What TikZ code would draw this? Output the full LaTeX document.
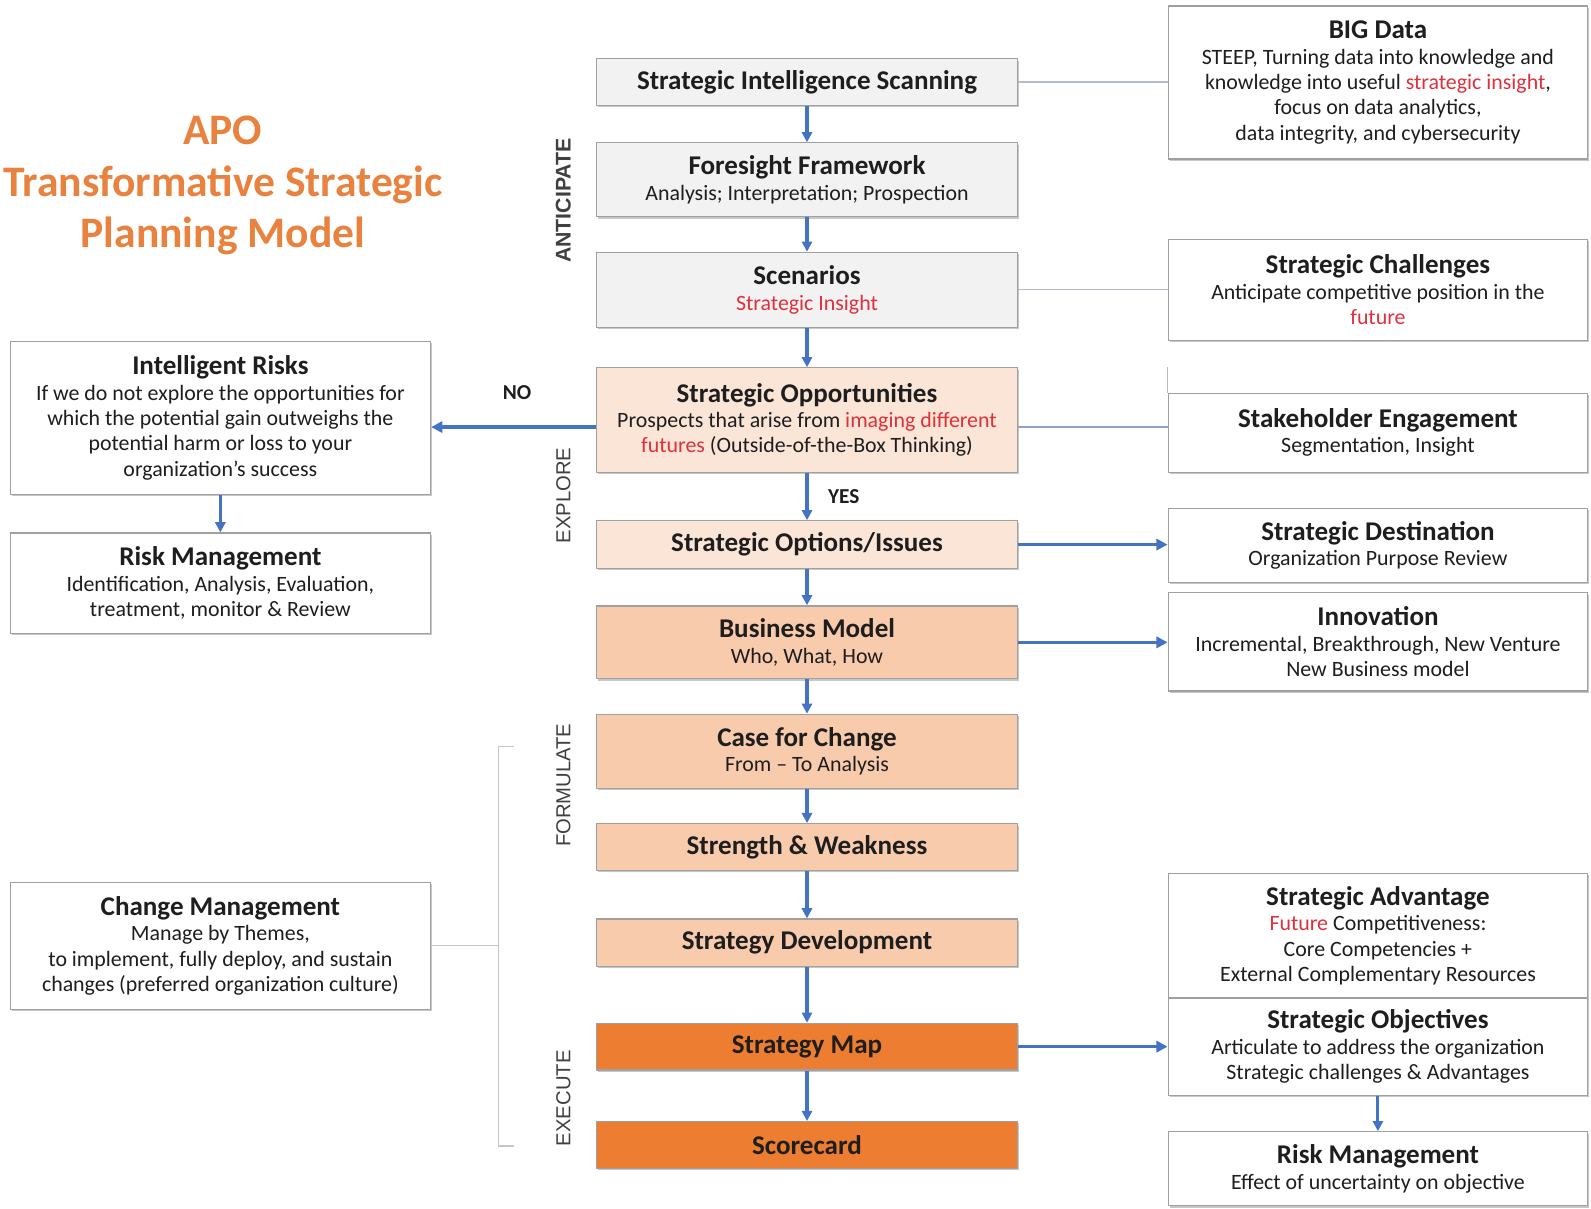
\documentclass[tikz,border=0pt]{standalone}
\usepackage{fontspec}
\setmainfont{Carlito}
\newfontfamily\labfont{Liberation Sans}
\usetikzlibrary{arrows.meta,shadows}
\definecolor{boxgray}{HTML}{F2F2F2}
\definecolor{edgegray}{HTML}{A0A0A0}
\definecolor{peachlt}{HTML}{FBE5D6}
\definecolor{peachmd}{HTML}{F8CBAD}
\definecolor{orng}{HTML}{ED7D31}
\definecolor{ttlorange}{HTML}{E8823E}
\definecolor{flowblue}{HTML}{4472C4}
\definecolor{redtxt}{HTML}{E0303C}
\definecolor{txt}{HTML}{1E1E1E}
\definecolor{thinline}{HTML}{B4BCC8}
\definecolor{bluethin}{HTML}{8EA2C8}
\newcommand{\bt}[1]{{\fontsize{26.7}{28}\selectfont\bfseries #1}}
\newcommand{\rd}[1]{\textcolor{redtxt}{#1}}
\tikzset{
  basebox/.style={draw=edgegray, line width=1.2pt, align=center, inner sep=0pt,
    text=txt, font=\fontsize{21.6}{25}\selectfont,
    drop shadow={shadow xshift=1.5pt, shadow yshift=-1.8pt, fill=black, opacity=0.22}},
  mainbox/.style={basebox, minimum width=415, fill=boxgray},
  sidebox/.style={basebox, minimum width=414, fill=white},
  flow/.style={draw=flowblue, line width=3pt, -{Triangle[length=10pt,width=10pt]}},
  sideflow/.style={flow, line width=3.6pt, -{Triangle[length=11pt,width=11pt]}},
  thin/.style={draw=thinline, line width=1.2pt},
  phase/.style={rotate=90, text=txt!85, font=\labfont\fontsize{20}{22}\selectfont},
  yn/.style={text=txt, font=\fontsize{21}{22}\selectfont\bfseries}
}
\begin{document}
\begin{tikzpicture}[x=1pt,y=-1pt]
\fill[white] (0,0) rectangle (1570.3,1192.3);

% title
\node[text=ttlorange, font=\fontsize{43}{50.5}\selectfont\bfseries, align=center] (title) at (220,183)
  {APO\\Transformative Strategic\\Planning Model};

% main column
\node[mainbox, minimum height=46] (sis) at (796.5,81) {\bt{Strategic Intelligence Scanning}};
\node[mainbox, minimum height=73] (ff) at (796.5,177.5) {\bt{Foresight Framework}\\Analysis; Interpretation; Prospection};
\node[mainbox, minimum height=74] (sc) at (796.5,286) {\bt{Scenarios}\\\rd{Strategic Insight}};
\node[mainbox, minimum height=103, fill=peachlt] (so) at (796.5,414.5) {\bt{Strategic Opportunities}\\Prospects that arise from \rd{imaging different}\\\rd{futures} (Outside-of-the-Box Thinking)};
\node[mainbox, minimum height=47, fill=peachlt] (soi) at (796.5,537.5) {\bt{Strategic Options/Issues}};
\node[mainbox, minimum height=72, fill=peachmd] (bm) at (796.5,634) {\bt{Business Model}\\Who, What, How};
\node[mainbox, minimum height=73, fill=peachmd] (cc) at (796.5,741.5) {\bt{Case for Change}\\From -- To Analysis};
\node[mainbox, minimum height=46, fill=peachmd] (sw) at (796.5,836) {\bt{Strength \& Weakness}};
\node[mainbox, minimum height=47, fill=peachmd] (sd) at (796.5,930.5) {\bt{Strategy Development}};
\node[mainbox, minimum height=46, fill=orng] (sm) at (796.5,1033) {\bt{Strategy Map}};
\node[mainbox, minimum height=46, fill=orng] (scd) at (796.5,1130) {\bt{Scorecard}};

% right column
\node[sidebox, minimum height=151] (bd) at (1360,81.5) {\bt{BIG Data}\\STEEP, Turning data into knowledge and\\knowledge into useful \rd{strategic insight},\\focus on data analytics,\\data integrity, and cybersecurity};
\node[sidebox, minimum height=100] (sch) at (1360,286) {\bt{Strategic Challenges}\\Anticipate competitive position in the\\\rd{future}};
\node[sidebox, minimum height=78] (se) at (1360,427) {\bt{Stakeholder Engagement}\\Segmentation, Insight};
\node[sidebox, minimum height=73] (sdest) at (1360,538.5) {\bt{Strategic Destination}\\Organization Purpose Review};
\node[sidebox, minimum height=97] (inn) at (1360,633.5) {\bt{Innovation}\\Incremental, Breakthrough, New Venture\\New Business model};
\node[sidebox, minimum height=123] (sa) at (1360,923.5) {\bt{Strategic Advantage}\\\rd{Future} Competitiveness:\\Core Competencies +\\External Complementary Resources};
\node[sidebox, minimum height=96] (sobj) at (1360,1033) {\bt{Strategic Objectives}\\Articulate to address the organization\\Strategic challenges \& Advantages};
\node[sidebox, minimum height=73] (rm2) at (1360,1153.5) {\bt{Risk Management}\\Effect of uncertainty on objective};

% left column
\node[sidebox, minimum width=415, minimum height=151] (ir) at (217.5,412.5) {\bt{Intelligent Risks}\\If we do not explore the opportunities for\\which the potential gain outweighs the\\potential harm or loss to your\\organization's success};
\node[sidebox, minimum width=415, minimum height=99] (rm1) at (217.5,575.5) {\bt{Risk Management}\\Identification, Analysis, Evaluation,\\treatment, monitor \& Review};
\node[sidebox, minimum width=415, minimum height=125] (cm) at (217.5,933.5) {\bt{Change Management}\\Manage by Themes,\\to implement, fully deploy, and sustain\\changes (preferred organization culture)};

% phase labels
\node[phase, font=\labfont\bfseries\fontsize{21}{22}\selectfont] (pa) at (556,198) {ANTICIPATE};
\node[phase] (pe) at (556,489) {EXPLORE};
\node[phase] (pf) at (556,775) {FORMULATE};
\node[phase] (px) at (556,1084) {EXECUTE};

% bracket
\coordinate (b1) at (507,737);
\coordinate (b2) at (492,737);
\coordinate (b3) at (492,1131);
\coordinate (b4) at (507,1131);
\draw[thin, draw=gray!45] (b1) -- (b2) -- (b3) -- (b4);
\draw[thin, draw=gray!45] (cm.east) -- (cm.east -| b2);

% thin connectors
\draw[thin] (sis.east) -- (sis.east -| bd.west);
\draw[thin] (sc.east) -- (sc.east -| sch.west);
\draw[thin, draw=bluethin, line width=1.8pt] ([yshift=-7pt]so.east) -- ([yshift=-7pt]so.east -| se.west);
\draw[thin, draw=gray!55] (se.north west) -- ++(0,-25);

% main flow
\draw[flow] (sis) -- (ff);
\draw[flow] (ff) -- (sc);
\draw[flow] (sc) -- (so);
\draw[flow] (so) -- node[yn, right=16pt] (yes) {YES} (soi);
\draw[flow] (soi) -- (bm);
\draw[flow] (bm) -- (cc);
\draw[flow] (cc) -- (sw);
\draw[flow] (sw) -- (sd);
\draw[flow] (sd) -- (sm);
\draw[flow] (sm) -- (scd);

% side flows
\draw[sideflow] ([yshift=-7pt]so.west) -- node[yn, above=22pt, pos=0.48] (no) {NO} ([yshift=-7pt]so.west -| ir.east);
\draw[flow] (ir) -- (rm1);
\draw[sideflow] (soi.east) -- (soi.east -| sdest.west);
\draw[sideflow] (bm.east) -- (bm.east -| inn.west);
\draw[sideflow] (sm.east) -- (sm.east -| sobj.west);
\draw[flow] (sobj) -- (rm2);

\pgfresetboundingbox
\useasboundingbox (0,0) rectangle (1570.3,1192.3);
\end{tikzpicture}
\end{document}
